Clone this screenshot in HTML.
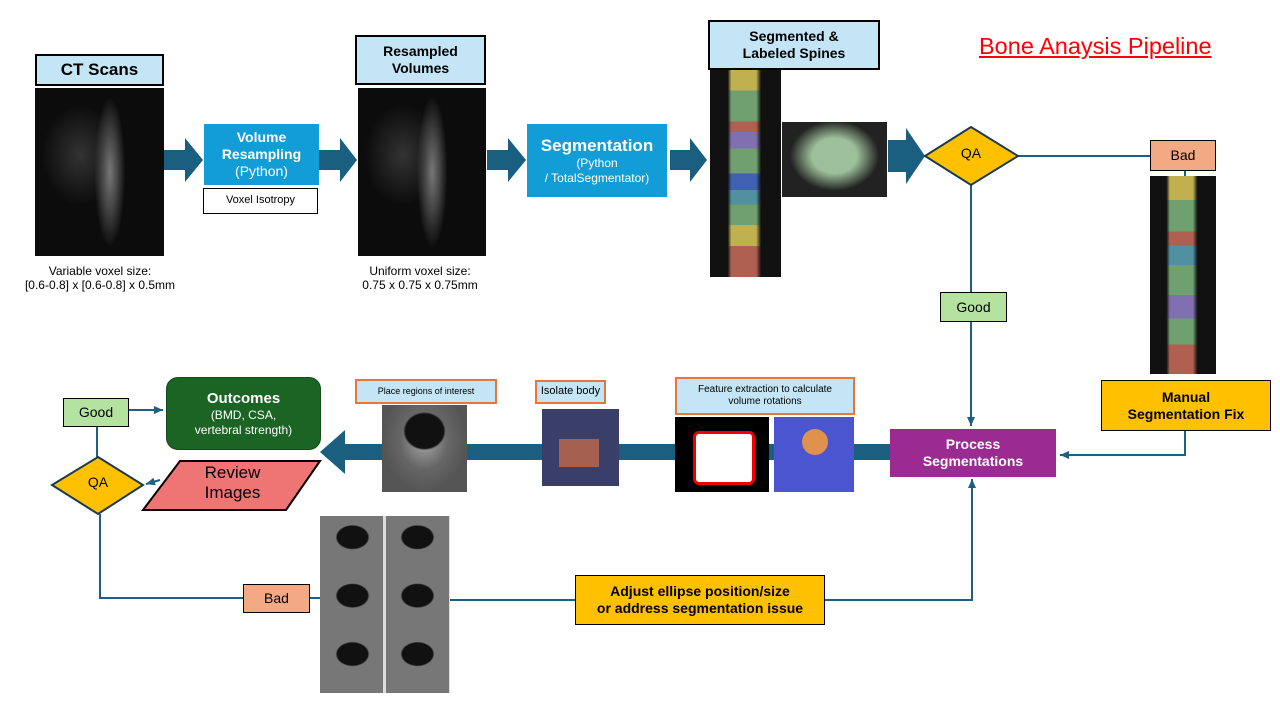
<!DOCTYPE html>
<html><head><meta charset="utf-8"><style>
body{margin:0;width:1280px;height:720px;background:#fff;position:relative;overflow:hidden;font-family:"Liberation Sans",sans-serif}
.a{position:absolute;box-sizing:border-box;display:flex;align-items:center;justify-content:center;text-align:center;line-height:1.2}
.lbl{background:#c3e5f5;border:2px solid #000;font-weight:bold;font-size:15px}
.ol{background:#c3e5f5;border:2px solid #e8763a;font-size:10px}
.img{position:absolute;background:#111}
.ct{background:radial-gradient(ellipse 12% 45% at 58% 50%,#777 0,#444 50%,transparent 100%),radial-gradient(ellipse 30% 30% at 35% 40%,#333 0,transparent 100%),#0c0c0c}
</style></head><body>
<svg width="1280" height="720" style="position:absolute;left:0;top:0">
<defs><marker id="m" markerUnits="userSpaceOnUse" markerWidth="10" markerHeight="10" refX="9" refY="5" orient="auto"><path d="M0,1 L9,5 L0,9 z" fill="#1f5f85"/></marker></defs>
<g fill="#1a5e80">
<path d="M164,150 H185 V138 L203,160 L185,182 V170 H164 z"/>
<path d="M319,150 H340 V138 L357,160 L340,182 V170 H319 z"/>
<path d="M487,150 H508 V138 L526,160 L508,182 V170 H487 z"/>
<path d="M670,150 H690 V138 L707,160 L690,182 V170 H670 z"/>
<path d="M888,140 H906 V128 L925,156 L906,184 V172 H888 z"/>
<path d="M890,444 H345 V430 L320,452 L345,474 V460 H890 z"/>
</g>
<g stroke="#1f5f85" stroke-width="2" fill="none">
<line x1="1018" y1="156" x2="1150" y2="156"/>
<line x1="1185" y1="171" x2="1185" y2="176"/>
<polyline points="1185,430 1185,455 1060,455" marker-end="url(#m)"/>
<line x1="971" y1="185" x2="971" y2="292"/>
<line x1="971" y1="321" x2="971" y2="426" marker-end="url(#m)"/>
<line x1="128" y1="410" x2="163" y2="410" marker-end="url(#m)"/>
<line x1="97" y1="426" x2="97" y2="459"/>
<line x1="160" y1="480" x2="146" y2="484" marker-end="url(#m)"/>
<polyline points="100,514 100,598 243,598"/>
<line x1="309" y1="598" x2="320" y2="598"/>
<line x1="450" y1="600" x2="575" y2="600"/>
<polyline points="824,600 972,600 972,479" marker-end="url(#m)"/>
</g>
<polygon points="971,127 1018,156 971,185 925,156" fill="#ffc000" stroke="#1a3a50" stroke-width="2"/>
<polygon points="98,457 143,485 98,514 52,485" fill="#ffc000" stroke="#1a3a50" stroke-width="2"/>
<polygon points="180,461 320,461 286,510 143,510" fill="#ef7575" stroke="#000" stroke-width="2"/>
</svg>
<div class="a lbl" style="left:35px;top:54px;width:129px;height:32px;font-size:17px">CT Scans</div>
<div class="img ct" style="left:35px;top:88px;width:129px;height:168px"></div>
<div class="a" style="left:20px;top:264px;width:160px;font-size:12px">Variable voxel size:<br>[0.6-0.8] x [0.6-0.8] x 0.5mm</div>
<div class="a" style="left:204px;top:124px;width:115px;height:61px;background:#139dd6;color:#fff;font-weight:bold;font-size:14px;flex-direction:column">Volume<br>Resampling<span style="font-weight:normal">(Python)</span></div>
<div class="a" style="left:203px;top:188px;width:115px;height:26px;border:1px solid #000;font-size:11px">Voxel Isotropy</div>
<div class="a lbl" style="left:355px;top:35px;width:131px;height:50px;font-size:14px">Resampled<br>Volumes</div>
<div class="img ct" style="left:358px;top:88px;width:128px;height:168px"></div>
<div class="a" style="left:345px;top:264px;width:150px;font-size:12px">Uniform voxel size:<br>0.75 x 0.75 x 0.75mm</div>
<div class="a" style="left:527px;top:124px;width:140px;height:73px;background:#139dd6;color:#fff;font-size:12px;flex-direction:column"><b style="font-size:17px">Segmentation</b>(Python<br>/ TotalSegmentator)</div>
<div class="a lbl" style="left:708px;top:20px;width:172px;height:50px;font-size:14px">Segmented &amp;<br>Labeled Spines</div>
<div class="img" style="left:710px;top:70px;width:71px;height:207px;background:linear-gradient(90deg,#111 25%,transparent 30%,transparent 65%,#111 72%),linear-gradient(#c0b050 0 10%,#70a070 10% 25%,#b06050 25% 30%,#8070b0 30% 38%,#70a070 38% 50%,#4060b0 50% 58%,#5090a0 58% 65%,#70a070 65% 75%,#c0b050 75% 85%,#b06050 85%)"></div>
<div class="img" style="left:782px;top:122px;width:105px;height:75px;background:radial-gradient(ellipse at 50% 45%,#9dc09a 30%,#222 60%)"></div>
<div class="a" style="left:935px;top:145px;width:72px;font-size:14px">QA</div>
<div style="position:absolute;left:979px;top:33px;font-size:23.5px;color:#f00;text-decoration:underline;white-space:nowrap">Bone Anaysis Pipeline</div>
<div class="a" style="left:1150px;top:140px;width:66px;height:31px;background:#f3a983;border:1px solid #000;font-size:14px">Bad</div>
<div class="img" style="left:1150px;top:176px;width:66px;height:198px;background:linear-gradient(90deg,#111 25%,transparent 30%,transparent 65%,#111 72%),linear-gradient(#c0b050 0 12%,#70a070 12% 28%,#b06050 28% 35%,#5090a0 35% 45%,#70a070 45% 60%,#8070b0 60% 72%,#70a070 72% 85%,#b06050 85%)"></div>
<div class="a" style="left:940px;top:292px;width:67px;height:30px;background:#b4e3a1;border:1px solid #000;font-size:14px">Good</div>
<div class="a" style="left:1101px;top:380px;width:170px;height:51px;background:#ffc000;border:1px solid #000;font-weight:bold;font-size:14px">Manual<br>Segmentation Fix</div>
<div class="a" style="left:890px;top:429px;width:166px;height:48px;background:#9b2a92;color:#fff;font-weight:bold;font-size:14px">Process<br>Segmentations</div>
<div class="a ol" style="left:675px;top:377px;width:180px;height:38px">Feature extraction to calculate<br>volume rotations</div>
<div class="img" style="left:675px;top:417px;width:94px;height:75px;background:#000"><div style="position:absolute;left:18px;top:14px;width:56px;height:48px;background:#fff;border:3px solid #e00;border-radius:6px"></div></div>
<div class="img" style="left:774px;top:417px;width:80px;height:75px;background:#4a55cf"><div style="position:absolute;left:28px;top:12px;width:26px;height:26px;background:#e0914d;border-radius:50%"></div></div>
<div class="a ol" style="left:535px;top:380px;width:71px;height:24px;font-size:11px">Isolate body</div>
<div class="img" style="left:542px;top:409px;width:77px;height:77px;background:#3a3f6a"><div style="position:absolute;left:17px;top:30px;width:40px;height:28px;background:#a66050"></div></div>
<div class="a ol" style="left:355px;top:379px;width:142px;height:25px;font-size:9px">Place regions of interest</div>
<div class="img" style="left:382px;top:405px;width:85px;height:87px;background:radial-gradient(ellipse 25% 22% at 50% 30%,#111 90%,transparent 100%),radial-gradient(ellipse at 50% 40%,#aaa 0,#666 40%,#555 70%)"></div>
<div class="a" style="left:166px;top:377px;width:155px;height:73px;background:#1b6423;border:1.5px solid #134a18;border-radius:12px;color:#fff;font-size:12px;flex-direction:column"><b style="font-size:15px">Outcomes</b>(BMD, CSA,<br>vertebral strength)</div>
<div class="a" style="left:63px;top:398px;width:66px;height:29px;background:#b4e3a1;border:1px solid #000;font-size:14px">Good</div>
<div class="a" style="left:62px;top:474px;width:72px;font-size:14px">QA</div>
<div class="a" style="left:180px;top:463px;width:105px;font-size:17px">Review<br>Images</div>
<div class="img" style="left:320px;top:516px;width:130px;height:177px;background:radial-gradient(ellipse 13% 7% at 25% 12%,#111 90%,transparent),radial-gradient(ellipse 13% 7% at 75% 12%,#111 90%,transparent),radial-gradient(ellipse 13% 7% at 25% 45%,#111 90%,transparent),radial-gradient(ellipse 13% 7% at 75% 45%,#111 90%,transparent),radial-gradient(ellipse 13% 7% at 25% 78%,#111 90%,transparent),radial-gradient(ellipse 13% 7% at 75% 78%,#111 90%,transparent),repeating-linear-gradient(90deg,#777 0 63px,#ddd 63px 66px)"></div>
<div class="a" style="left:243px;top:584px;width:67px;height:29px;background:#f3a983;border:1px solid #000;font-size:14px">Bad</div>
<div class="a" style="left:575px;top:575px;width:250px;height:50px;background:#ffc000;border:1px solid #000;font-weight:bold;font-size:14px">Adjust ellipse position/size<br>or address segmentation issue</div>
</body></html>
